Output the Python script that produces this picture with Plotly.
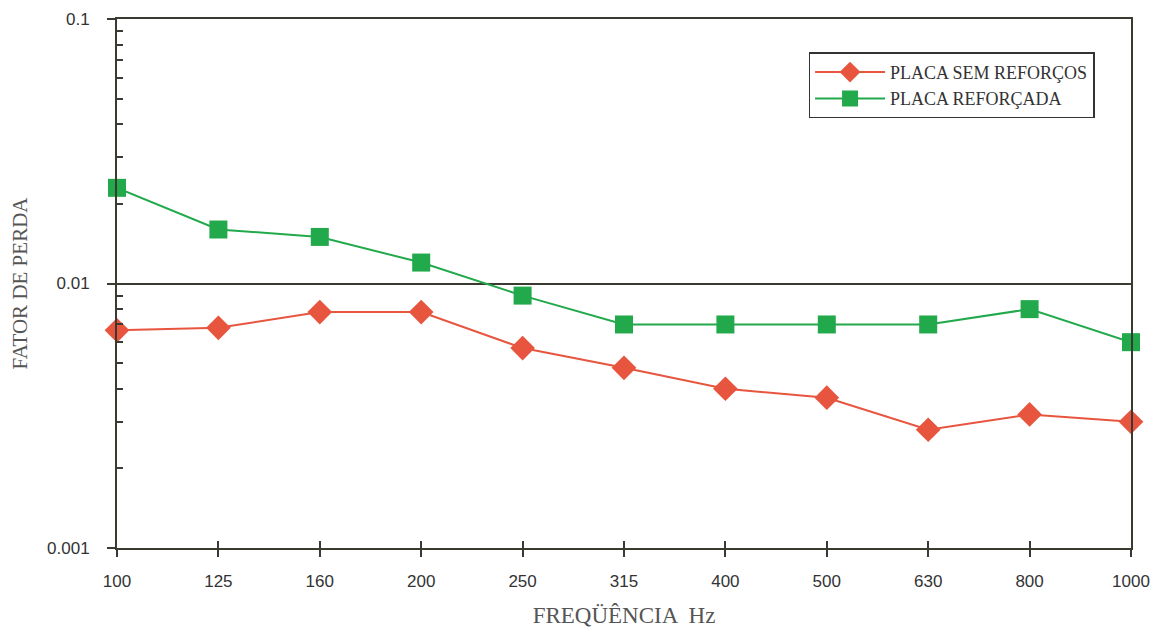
import plotly.graph_objects as go

freqs = ["100", "125", "160", "200", "250", "315", "400", "500", "630", "800", "1000"]
sem_reforcos = [0.00665, 0.0068, 0.0078, 0.0078, 0.0057, 0.0048, 0.0040, 0.0037, 0.0028, 0.0032, 0.0030]
reforcada = [0.023, 0.016, 0.015, 0.012, 0.009, 0.007, 0.007, 0.007, 0.007, 0.008, 0.006]
y_ticks = [0.1, 0.01, 0.001]
y_tick_labels = ["0.1", "0.01", "0.001"]
y_minor = [m * d for d in (0.001, 0.01) for m in range(2, 10)]

RED = "#E8553F"
GREEN = "#22A94B"
AXC = "#3a3a30"

fig = go.Figure()
fig.add_trace(go.Scatter(
    x=freqs, y=sem_reforcos, name="PLACA SEM REFORÇOS", mode="lines+markers",
    line=dict(color=RED, width=2), cliponaxis=False,
    marker=dict(symbol="diamond", size=19, color=RED),
))
fig.add_trace(go.Scatter(
    x=freqs, y=reforcada, name="PLACA REFORÇADA", mode="lines+markers",
    line=dict(color=GREEN, width=2), cliponaxis=False,
    marker=dict(symbol="square", size=18, color=GREEN),
))
# invisible trace on overlaid axis for inner tick marks
fig.add_trace(go.Scatter(x=freqs, y=reforcada, xaxis="x2", mode="none",
                         showlegend=False, hoverinfo="skip"))

fig.update_layout(
    width=1156, height=632,
    margin=dict(l=117, r=25, t=19, b=84),
    paper_bgcolor="white", plot_bgcolor="white",
    showlegend=True,
    legend=dict(
        x=0.682, y=0.937, xanchor="left", yanchor="top",
        bgcolor="white", bordercolor="#333333", borderwidth=1.5,
        font=dict(family="Liberation Serif", size=18, color="#333333"),
        itemwidth=70, tracegroupgap=0,
    ),
    xaxis=dict(
        type="category", range=[0, 10], automargin=False,
        showline=True, linecolor=AXC, linewidth=2, mirror=True,
        ticks="outside", ticklen=7, tickwidth=2, tickcolor=AXC,
        showgrid=False, zeroline=False,
        tickfont=dict(family="Liberation Sans", size=17, color="#333333"),
        ticklabelstandoff=10,
        title=dict(text="FREQÜÊNCIA  Hz", standoff=16,
                   font=dict(family="Liberation Serif", size=23, color="#555555")),
    ),
    xaxis2=dict(
        type="category", range=[0, 10], overlaying="x", anchor="y",
        side="bottom", ticks="inside", ticklen=7, tickwidth=2, tickcolor=AXC,
        showticklabels=False, showgrid=False, showline=False, zeroline=False,
    ),
    yaxis=dict(
        type="log", range=[-3, -1], automargin=False,
        showline=True, linecolor=AXC, linewidth=2, mirror=True,
        tickmode="array", tickvals=y_ticks, ticktext=y_tick_labels,
        ticks="outside", ticklen=8, tickwidth=2, tickcolor=AXC,
        minor=dict(tickmode="array", tickvals=y_minor, ticks="inside",
                   ticklen=6, tickwidth=2, tickcolor=AXC, showgrid=False),
        showgrid=True, gridcolor=AXC, gridwidth=2, zeroline=False,
        tickfont=dict(family="Liberation Sans", size=17, color="#333333"),
        ticklabelstandoff=14,
        title=dict(text="FATOR DE PERDA", standoff=14,
                   font=dict(family="Liberation Serif", size=21, color="#555555")),
    ),
)

fig.write_html("out.html", config={"displayModeBar": False},
               post_script="document.body.style.margin='0';")
